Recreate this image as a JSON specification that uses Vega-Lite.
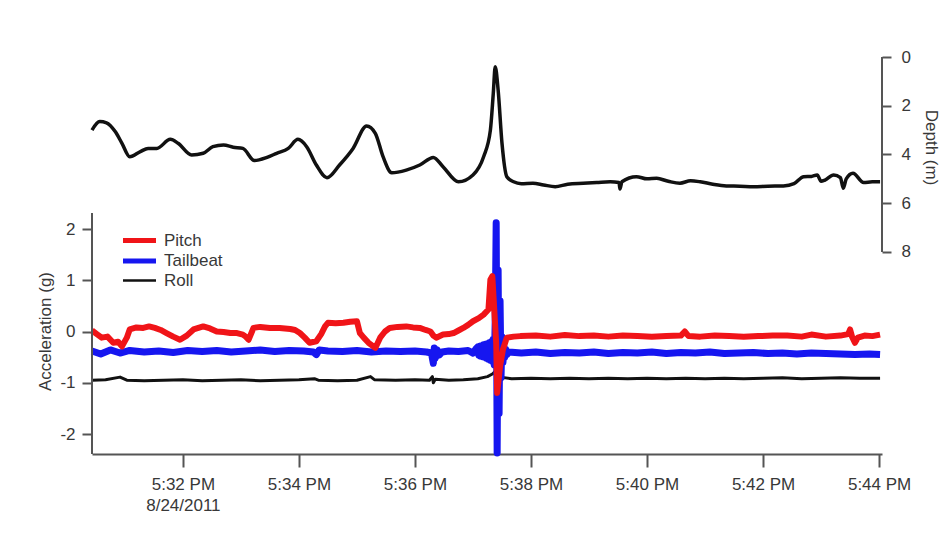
{
  "$schema": "https://vega.github.io/schema/vega-lite/v6.json",
  "width": 790,
  "height": 397,
  "autosize": {"type": "none"},
  "padding": {"left": 92, "top": 57, "right": 69, "bottom": 93},
  "background": "white",
  "config": {
    "view": {"stroke": null},
    "font": "Liberation Sans",
    "axis": {
      "grid": false,
      "labelFont": "Liberation Sans",
      "titleFont": "Liberation Sans",
      "labelFontSize": 17,
      "titleFontSize": 17,
      "titleFontWeight": "normal",
      "labelColor": "#383838",
      "titleColor": "#383838",
      "domainColor": "#555555",
      "domainWidth": 2,
      "tickColor": "#555555",
      "tickWidth": 2
    }
  },
  "datasets": {
    "depth": [
      {"t": "2011-08-24T17:30:26", "d": 3.0},
      {"t": "2011-08-24T17:30:34", "d": 2.65},
      {"t": "2011-08-24T17:30:41", "d": 2.7},
      {"t": "2011-08-24T17:30:50", "d": 3.06},
      {"t": "2011-08-24T17:30:57", "d": 3.54},
      {"t": "2011-08-24T17:31:05", "d": 4.09},
      {"t": "2011-08-24T17:31:16", "d": 3.88},
      {"t": "2011-08-24T17:31:24", "d": 3.75},
      {"t": "2011-08-24T17:31:33", "d": 3.75},
      {"t": "2011-08-24T17:31:47", "d": 3.38},
      {"t": "2011-08-24T17:31:55", "d": 3.54},
      {"t": "2011-08-24T17:32:09", "d": 4.02},
      {"t": "2011-08-24T17:32:21", "d": 3.95},
      {"t": "2011-08-24T17:32:31", "d": 3.68},
      {"t": "2011-08-24T17:32:42", "d": 3.61},
      {"t": "2011-08-24T17:32:52", "d": 3.7},
      {"t": "2011-08-24T17:33:02", "d": 3.75},
      {"t": "2011-08-24T17:33:14", "d": 4.25},
      {"t": "2011-08-24T17:33:27", "d": 4.12},
      {"t": "2011-08-24T17:33:37", "d": 3.95},
      {"t": "2011-08-24T17:33:49", "d": 3.75},
      {"t": "2011-08-24T17:33:59", "d": 3.38},
      {"t": "2011-08-24T17:34:08", "d": 3.68},
      {"t": "2011-08-24T17:34:18", "d": 4.43},
      {"t": "2011-08-24T17:34:29", "d": 4.95},
      {"t": "2011-08-24T17:34:42", "d": 4.43},
      {"t": "2011-08-24T17:34:56", "d": 3.75},
      {"t": "2011-08-24T17:35:10", "d": 2.83},
      {"t": "2011-08-24T17:35:19", "d": 3.13},
      {"t": "2011-08-24T17:35:27", "d": 4.09},
      {"t": "2011-08-24T17:35:36", "d": 4.75},
      {"t": "2011-08-24T17:35:51", "d": 4.64},
      {"t": "2011-08-24T17:36:05", "d": 4.43},
      {"t": "2011-08-24T17:36:19", "d": 4.12},
      {"t": "2011-08-24T17:36:29", "d": 4.5},
      {"t": "2011-08-24T17:36:45", "d": 5.12},
      {"t": "2011-08-24T17:37:00", "d": 4.84},
      {"t": "2011-08-24T17:37:11", "d": 4.09},
      {"t": "2011-08-24T17:37:18", "d": 3.0},
      {"t": "2011-08-24T17:37:21", "d": 1.49},
      {"t": "2011-08-24T17:37:23", "d": 0.4},
      {"t": "2011-08-24T17:37:26", "d": 1.35},
      {"t": "2011-08-24T17:37:30", "d": 3.54},
      {"t": "2011-08-24T17:37:35", "d": 4.91},
      {"t": "2011-08-24T17:37:42", "d": 5.12},
      {"t": "2011-08-24T17:37:50", "d": 5.2},
      {"t": "2011-08-24T17:38:02", "d": 5.18},
      {"t": "2011-08-24T17:38:13", "d": 5.25},
      {"t": "2011-08-24T17:38:25", "d": 5.32},
      {"t": "2011-08-24T17:38:38", "d": 5.22},
      {"t": "2011-08-24T17:38:54", "d": 5.18},
      {"t": "2011-08-24T17:39:08", "d": 5.15},
      {"t": "2011-08-24T17:39:22", "d": 5.12},
      {"t": "2011-08-24T17:39:31", "d": 5.15},
      {"t": "2011-08-24T17:39:32", "d": 5.42},
      {"t": "2011-08-24T17:39:34", "d": 5.12},
      {"t": "2011-08-24T17:39:49", "d": 4.91},
      {"t": "2011-08-24T17:40:00", "d": 5.0},
      {"t": "2011-08-24T17:40:10", "d": 4.98},
      {"t": "2011-08-24T17:40:22", "d": 5.1},
      {"t": "2011-08-24T17:40:34", "d": 5.18},
      {"t": "2011-08-24T17:40:45", "d": 5.08},
      {"t": "2011-08-24T17:40:55", "d": 5.12},
      {"t": "2011-08-24T17:41:08", "d": 5.22},
      {"t": "2011-08-24T17:41:22", "d": 5.29},
      {"t": "2011-08-24T17:41:36", "d": 5.3},
      {"t": "2011-08-24T17:41:50", "d": 5.32},
      {"t": "2011-08-24T17:42:05", "d": 5.3},
      {"t": "2011-08-24T17:42:21", "d": 5.29},
      {"t": "2011-08-24T17:42:32", "d": 5.2},
      {"t": "2011-08-24T17:42:42", "d": 4.91},
      {"t": "2011-08-24T17:42:50", "d": 4.9},
      {"t": "2011-08-24T17:42:56", "d": 4.84},
      {"t": "2011-08-24T17:43:00", "d": 5.1},
      {"t": "2011-08-24T17:43:04", "d": 5.05},
      {"t": "2011-08-24T17:43:13", "d": 4.84},
      {"t": "2011-08-24T17:43:20", "d": 4.95},
      {"t": "2011-08-24T17:43:23", "d": 5.39},
      {"t": "2011-08-24T17:43:26", "d": 5.0},
      {"t": "2011-08-24T17:43:33", "d": 4.77},
      {"t": "2011-08-24T17:43:44", "d": 5.15},
      {"t": "2011-08-24T17:43:53", "d": 5.12},
      {"t": "2011-08-24T17:44:01", "d": 5.12}
    ],
    "accel": [
      {"t": "2011-08-24T17:30:26", "series": "Roll", "g": -0.95},
      {"t": "2011-08-24T17:30:40", "series": "Roll", "g": -0.94},
      {"t": "2011-08-24T17:30:55", "series": "Roll", "g": -0.89},
      {"t": "2011-08-24T17:31:02", "series": "Roll", "g": -0.95},
      {"t": "2011-08-24T17:31:20", "series": "Roll", "g": -0.96},
      {"t": "2011-08-24T17:31:40", "series": "Roll", "g": -0.95},
      {"t": "2011-08-24T17:32:00", "series": "Roll", "g": -0.94},
      {"t": "2011-08-24T17:32:20", "series": "Roll", "g": -0.96},
      {"t": "2011-08-24T17:32:40", "series": "Roll", "g": -0.95},
      {"t": "2011-08-24T17:33:00", "series": "Roll", "g": -0.94},
      {"t": "2011-08-24T17:33:20", "series": "Roll", "g": -0.96},
      {"t": "2011-08-24T17:33:40", "series": "Roll", "g": -0.95},
      {"t": "2011-08-24T17:34:00", "series": "Roll", "g": -0.94},
      {"t": "2011-08-24T17:34:16", "series": "Roll", "g": -0.92},
      {"t": "2011-08-24T17:34:20", "series": "Roll", "g": -0.95},
      {"t": "2011-08-24T17:34:40", "series": "Roll", "g": -0.96},
      {"t": "2011-08-24T17:35:00", "series": "Roll", "g": -0.95},
      {"t": "2011-08-24T17:35:14", "series": "Roll", "g": -0.88},
      {"t": "2011-08-24T17:35:18", "series": "Roll", "g": -0.94},
      {"t": "2011-08-24T17:35:40", "series": "Roll", "g": -0.95},
      {"t": "2011-08-24T17:36:00", "series": "Roll", "g": -0.94},
      {"t": "2011-08-24T17:36:15", "series": "Roll", "g": -0.95},
      {"t": "2011-08-24T17:36:18", "series": "Roll", "g": -0.88},
      {"t": "2011-08-24T17:36:19", "series": "Roll", "g": -1.0},
      {"t": "2011-08-24T17:36:21", "series": "Roll", "g": -0.93},
      {"t": "2011-08-24T17:36:35", "series": "Roll", "g": -0.95},
      {"t": "2011-08-24T17:36:50", "series": "Roll", "g": -0.94},
      {"t": "2011-08-24T17:37:05", "series": "Roll", "g": -0.92},
      {"t": "2011-08-24T17:37:15", "series": "Roll", "g": -0.88},
      {"t": "2011-08-24T17:37:20", "series": "Roll", "g": -0.83},
      {"t": "2011-08-24T17:37:23", "series": "Roll", "g": -0.78},
      {"t": "2011-08-24T17:37:25", "series": "Roll", "g": -0.98},
      {"t": "2011-08-24T17:37:27", "series": "Roll", "g": -0.87},
      {"t": "2011-08-24T17:37:29", "series": "Roll", "g": -0.95},
      {"t": "2011-08-24T17:37:32", "series": "Roll", "g": -0.9},
      {"t": "2011-08-24T17:37:40", "series": "Roll", "g": -0.92},
      {"t": "2011-08-24T17:38:00", "series": "Roll", "g": -0.91},
      {"t": "2011-08-24T17:38:20", "series": "Roll", "g": -0.92},
      {"t": "2011-08-24T17:38:40", "series": "Roll", "g": -0.91},
      {"t": "2011-08-24T17:39:00", "series": "Roll", "g": -0.92},
      {"t": "2011-08-24T17:39:20", "series": "Roll", "g": -0.91},
      {"t": "2011-08-24T17:39:40", "series": "Roll", "g": -0.92},
      {"t": "2011-08-24T17:40:00", "series": "Roll", "g": -0.91},
      {"t": "2011-08-24T17:40:20", "series": "Roll", "g": -0.92},
      {"t": "2011-08-24T17:40:40", "series": "Roll", "g": -0.91},
      {"t": "2011-08-24T17:41:00", "series": "Roll", "g": -0.92},
      {"t": "2011-08-24T17:41:20", "series": "Roll", "g": -0.91},
      {"t": "2011-08-24T17:41:40", "series": "Roll", "g": -0.92},
      {"t": "2011-08-24T17:42:00", "series": "Roll", "g": -0.91},
      {"t": "2011-08-24T17:42:20", "series": "Roll", "g": -0.9},
      {"t": "2011-08-24T17:42:40", "series": "Roll", "g": -0.92},
      {"t": "2011-08-24T17:43:00", "series": "Roll", "g": -0.91},
      {"t": "2011-08-24T17:43:20", "series": "Roll", "g": -0.9},
      {"t": "2011-08-24T17:43:40", "series": "Roll", "g": -0.91},
      {"t": "2011-08-24T17:44:01", "series": "Roll", "g": -0.91},

      {"t": "2011-08-24T17:30:26", "series": "Tailbeat", "g": -0.38},
      {"t": "2011-08-24T17:30:35", "series": "Tailbeat", "g": -0.44},
      {"t": "2011-08-24T17:30:45", "series": "Tailbeat", "g": -0.36},
      {"t": "2011-08-24T17:30:55", "series": "Tailbeat", "g": -0.42},
      {"t": "2011-08-24T17:31:05", "series": "Tailbeat", "g": -0.37},
      {"t": "2011-08-24T17:31:20", "series": "Tailbeat", "g": -0.4},
      {"t": "2011-08-24T17:31:35", "series": "Tailbeat", "g": -0.38},
      {"t": "2011-08-24T17:31:50", "series": "Tailbeat", "g": -0.41},
      {"t": "2011-08-24T17:32:05", "series": "Tailbeat", "g": -0.37},
      {"t": "2011-08-24T17:32:20", "series": "Tailbeat", "g": -0.39},
      {"t": "2011-08-24T17:32:35", "series": "Tailbeat", "g": -0.37},
      {"t": "2011-08-24T17:32:50", "series": "Tailbeat", "g": -0.4},
      {"t": "2011-08-24T17:33:05", "series": "Tailbeat", "g": -0.38},
      {"t": "2011-08-24T17:33:20", "series": "Tailbeat", "g": -0.36},
      {"t": "2011-08-24T17:33:35", "series": "Tailbeat", "g": -0.39},
      {"t": "2011-08-24T17:33:50", "series": "Tailbeat", "g": -0.37},
      {"t": "2011-08-24T17:34:05", "series": "Tailbeat", "g": -0.38},
      {"t": "2011-08-24T17:34:15", "series": "Tailbeat", "g": -0.4},
      {"t": "2011-08-24T17:34:18", "series": "Tailbeat", "g": -0.45},
      {"t": "2011-08-24T17:34:21", "series": "Tailbeat", "g": -0.36},
      {"t": "2011-08-24T17:34:30", "series": "Tailbeat", "g": -0.38},
      {"t": "2011-08-24T17:34:45", "series": "Tailbeat", "g": -0.39},
      {"t": "2011-08-24T17:35:00", "series": "Tailbeat", "g": -0.37},
      {"t": "2011-08-24T17:35:15", "series": "Tailbeat", "g": -0.4},
      {"t": "2011-08-24T17:35:30", "series": "Tailbeat", "g": -0.38},
      {"t": "2011-08-24T17:35:45", "series": "Tailbeat", "g": -0.39},
      {"t": "2011-08-24T17:36:00", "series": "Tailbeat", "g": -0.38},
      {"t": "2011-08-24T17:36:12", "series": "Tailbeat", "g": -0.4},
      {"t": "2011-08-24T17:36:17", "series": "Tailbeat", "g": -0.42},
      {"t": "2011-08-24T17:36:19", "series": "Tailbeat", "g": -0.62},
      {"t": "2011-08-24T17:36:20", "series": "Tailbeat", "g": -0.32},
      {"t": "2011-08-24T17:36:21", "series": "Tailbeat", "g": -0.52},
      {"t": "2011-08-24T17:36:23", "series": "Tailbeat", "g": -0.36},
      {"t": "2011-08-24T17:36:25", "series": "Tailbeat", "g": -0.46},
      {"t": "2011-08-24T17:36:28", "series": "Tailbeat", "g": -0.4},
      {"t": "2011-08-24T17:36:35", "series": "Tailbeat", "g": -0.38},
      {"t": "2011-08-24T17:36:45", "series": "Tailbeat", "g": -0.39},
      {"t": "2011-08-24T17:36:55", "series": "Tailbeat", "g": -0.37},
      {"t": "2011-08-24T17:37:00", "series": "Tailbeat", "g": -0.42},
      {"t": "2011-08-24T17:37:03", "series": "Tailbeat", "g": -0.34},
      {"t": "2011-08-24T17:37:05", "series": "Tailbeat", "g": -0.3},
      {"t": "2011-08-24T17:37:06", "series": "Tailbeat", "g": -0.46},
      {"t": "2011-08-24T17:37:07", "series": "Tailbeat", "g": -0.29},
      {"t": "2011-08-24T17:37:08", "series": "Tailbeat", "g": -0.48},
      {"t": "2011-08-24T17:37:09", "series": "Tailbeat", "g": -0.28},
      {"t": "2011-08-24T17:37:10", "series": "Tailbeat", "g": -0.49},
      {"t": "2011-08-24T17:37:11", "series": "Tailbeat", "g": -0.26},
      {"t": "2011-08-24T17:37:12", "series": "Tailbeat", "g": -0.5},
      {"t": "2011-08-24T17:37:13", "series": "Tailbeat", "g": -0.25},
      {"t": "2011-08-24T17:37:14", "series": "Tailbeat", "g": -0.52},
      {"t": "2011-08-24T17:37:15", "series": "Tailbeat", "g": -0.24},
      {"t": "2011-08-24T17:37:16", "series": "Tailbeat", "g": -0.54},
      {"t": "2011-08-24T17:37:17", "series": "Tailbeat", "g": -0.22},
      {"t": "2011-08-24T17:37:18", "series": "Tailbeat", "g": -0.56},
      {"t": "2011-08-24T17:37:19", "series": "Tailbeat", "g": -0.2},
      {"t": "2011-08-24T17:37:20", "series": "Tailbeat", "g": -0.58},
      {"t": "2011-08-24T17:37:21", "series": "Tailbeat", "g": -0.15},
      {"t": "2011-08-24T17:37:22", "series": "Tailbeat", "g": -0.65},
      {"t": "2011-08-24T17:37:23", "series": "Tailbeat", "g": 0.2},
      {"t": "2011-08-24T17:37:24", "series": "Tailbeat", "g": 2.12},
      {"t": "2011-08-24T17:37:25", "series": "Tailbeat", "g": -2.37},
      {"t": "2011-08-24T17:37:26", "series": "Tailbeat", "g": 1.2},
      {"t": "2011-08-24T17:37:27", "series": "Tailbeat", "g": -1.6},
      {"t": "2011-08-24T17:37:28", "series": "Tailbeat", "g": 0.6},
      {"t": "2011-08-24T17:37:29", "series": "Tailbeat", "g": -0.9},
      {"t": "2011-08-24T17:37:30", "series": "Tailbeat", "g": -0.1},
      {"t": "2011-08-24T17:37:31", "series": "Tailbeat", "g": -0.6},
      {"t": "2011-08-24T17:37:32", "series": "Tailbeat", "g": -0.3},
      {"t": "2011-08-24T17:37:33", "series": "Tailbeat", "g": -0.5},
      {"t": "2011-08-24T17:37:34", "series": "Tailbeat", "g": -0.35},
      {"t": "2011-08-24T17:37:35", "series": "Tailbeat", "g": -0.45},
      {"t": "2011-08-24T17:37:37", "series": "Tailbeat", "g": -0.4},
      {"t": "2011-08-24T17:37:50", "series": "Tailbeat", "g": -0.42},
      {"t": "2011-08-24T17:38:05", "series": "Tailbeat", "g": -0.4},
      {"t": "2011-08-24T17:38:20", "series": "Tailbeat", "g": -0.43},
      {"t": "2011-08-24T17:38:35", "series": "Tailbeat", "g": -0.41},
      {"t": "2011-08-24T17:38:50", "series": "Tailbeat", "g": -0.42},
      {"t": "2011-08-24T17:39:05", "series": "Tailbeat", "g": -0.4},
      {"t": "2011-08-24T17:39:20", "series": "Tailbeat", "g": -0.43},
      {"t": "2011-08-24T17:39:35", "series": "Tailbeat", "g": -0.41},
      {"t": "2011-08-24T17:39:50", "series": "Tailbeat", "g": -0.42},
      {"t": "2011-08-24T17:40:05", "series": "Tailbeat", "g": -0.4},
      {"t": "2011-08-24T17:40:20", "series": "Tailbeat", "g": -0.43},
      {"t": "2011-08-24T17:40:35", "series": "Tailbeat", "g": -0.41},
      {"t": "2011-08-24T17:40:50", "series": "Tailbeat", "g": -0.42},
      {"t": "2011-08-24T17:41:05", "series": "Tailbeat", "g": -0.4},
      {"t": "2011-08-24T17:41:20", "series": "Tailbeat", "g": -0.43},
      {"t": "2011-08-24T17:41:35", "series": "Tailbeat", "g": -0.42},
      {"t": "2011-08-24T17:41:50", "series": "Tailbeat", "g": -0.41},
      {"t": "2011-08-24T17:42:05", "series": "Tailbeat", "g": -0.43},
      {"t": "2011-08-24T17:42:20", "series": "Tailbeat", "g": -0.42},
      {"t": "2011-08-24T17:42:35", "series": "Tailbeat", "g": -0.44},
      {"t": "2011-08-24T17:42:50", "series": "Tailbeat", "g": -0.42},
      {"t": "2011-08-24T17:43:05", "series": "Tailbeat", "g": -0.43},
      {"t": "2011-08-24T17:43:20", "series": "Tailbeat", "g": -0.44},
      {"t": "2011-08-24T17:43:35", "series": "Tailbeat", "g": -0.45},
      {"t": "2011-08-24T17:43:50", "series": "Tailbeat", "g": -0.44},
      {"t": "2011-08-24T17:44:01", "series": "Tailbeat", "g": -0.45},

      {"t": "2011-08-24T17:30:26", "series": "Pitch", "g": 0.02},
      {"t": "2011-08-24T17:30:31", "series": "Pitch", "g": -0.05},
      {"t": "2011-08-24T17:30:36", "series": "Pitch", "g": -0.12},
      {"t": "2011-08-24T17:30:42", "series": "Pitch", "g": -0.1},
      {"t": "2011-08-24T17:30:48", "series": "Pitch", "g": -0.22},
      {"t": "2011-08-24T17:30:53", "series": "Pitch", "g": -0.2},
      {"t": "2011-08-24T17:30:57", "series": "Pitch", "g": -0.29},
      {"t": "2011-08-24T17:31:02", "series": "Pitch", "g": -0.12},
      {"t": "2011-08-24T17:31:05", "series": "Pitch", "g": 0.04},
      {"t": "2011-08-24T17:31:12", "series": "Pitch", "g": 0.08},
      {"t": "2011-08-24T17:31:19", "series": "Pitch", "g": 0.07},
      {"t": "2011-08-24T17:31:25", "series": "Pitch", "g": 0.1},
      {"t": "2011-08-24T17:31:31", "series": "Pitch", "g": 0.07},
      {"t": "2011-08-24T17:31:37", "series": "Pitch", "g": 0.03},
      {"t": "2011-08-24T17:31:43", "series": "Pitch", "g": -0.03},
      {"t": "2011-08-24T17:31:50", "series": "Pitch", "g": -0.1},
      {"t": "2011-08-24T17:31:57", "series": "Pitch", "g": -0.16},
      {"t": "2011-08-24T17:32:04", "series": "Pitch", "g": -0.08},
      {"t": "2011-08-24T17:32:11", "series": "Pitch", "g": 0.04},
      {"t": "2011-08-24T17:32:16", "series": "Pitch", "g": 0.07},
      {"t": "2011-08-24T17:32:21", "series": "Pitch", "g": 0.1},
      {"t": "2011-08-24T17:32:28", "series": "Pitch", "g": 0.06},
      {"t": "2011-08-24T17:32:35", "series": "Pitch", "g": 0.0},
      {"t": "2011-08-24T17:32:42", "series": "Pitch", "g": -0.01},
      {"t": "2011-08-24T17:32:49", "series": "Pitch", "g": -0.03},
      {"t": "2011-08-24T17:32:56", "series": "Pitch", "g": -0.03},
      {"t": "2011-08-24T17:33:02", "series": "Pitch", "g": -0.06},
      {"t": "2011-08-24T17:33:05", "series": "Pitch", "g": -0.1},
      {"t": "2011-08-24T17:33:08", "series": "Pitch", "g": -0.16},
      {"t": "2011-08-24T17:33:13", "series": "Pitch", "g": 0.07},
      {"t": "2011-08-24T17:33:20", "series": "Pitch", "g": 0.09},
      {"t": "2011-08-24T17:33:30", "series": "Pitch", "g": 0.07},
      {"t": "2011-08-24T17:33:40", "series": "Pitch", "g": 0.07},
      {"t": "2011-08-24T17:33:51", "series": "Pitch", "g": 0.05},
      {"t": "2011-08-24T17:33:56", "series": "Pitch", "g": 0.03},
      {"t": "2011-08-24T17:34:01", "series": "Pitch", "g": -0.03},
      {"t": "2011-08-24T17:34:06", "series": "Pitch", "g": -0.12},
      {"t": "2011-08-24T17:34:11", "series": "Pitch", "g": -0.22},
      {"t": "2011-08-24T17:34:18", "series": "Pitch", "g": -0.19},
      {"t": "2011-08-24T17:34:23", "series": "Pitch", "g": -0.05},
      {"t": "2011-08-24T17:34:27", "series": "Pitch", "g": 0.1},
      {"t": "2011-08-24T17:34:30", "series": "Pitch", "g": 0.17},
      {"t": "2011-08-24T17:34:38", "series": "Pitch", "g": 0.16},
      {"t": "2011-08-24T17:34:46", "series": "Pitch", "g": 0.17},
      {"t": "2011-08-24T17:34:53", "series": "Pitch", "g": 0.19},
      {"t": "2011-08-24T17:35:00", "series": "Pitch", "g": 0.2},
      {"t": "2011-08-24T17:35:03", "series": "Pitch", "g": -0.03},
      {"t": "2011-08-24T17:35:07", "series": "Pitch", "g": -0.12},
      {"t": "2011-08-24T17:35:12", "series": "Pitch", "g": -0.22},
      {"t": "2011-08-24T17:35:19", "series": "Pitch", "g": -0.32},
      {"t": "2011-08-24T17:35:24", "series": "Pitch", "g": -0.12},
      {"t": "2011-08-24T17:35:29", "series": "Pitch", "g": 0.0},
      {"t": "2011-08-24T17:35:34", "series": "Pitch", "g": 0.07},
      {"t": "2011-08-24T17:35:42", "series": "Pitch", "g": 0.09},
      {"t": "2011-08-24T17:35:51", "series": "Pitch", "g": 0.1},
      {"t": "2011-08-24T17:35:58", "series": "Pitch", "g": 0.08},
      {"t": "2011-08-24T17:36:05", "series": "Pitch", "g": 0.07},
      {"t": "2011-08-24T17:36:11", "series": "Pitch", "g": 0.03},
      {"t": "2011-08-24T17:36:16", "series": "Pitch", "g": 0.0},
      {"t": "2011-08-24T17:36:19", "series": "Pitch", "g": -0.08},
      {"t": "2011-08-24T17:36:22", "series": "Pitch", "g": -0.12},
      {"t": "2011-08-24T17:36:29", "series": "Pitch", "g": -0.06},
      {"t": "2011-08-24T17:36:35", "series": "Pitch", "g": -0.05},
      {"t": "2011-08-24T17:36:40", "series": "Pitch", "g": -0.03},
      {"t": "2011-08-24T17:36:45", "series": "Pitch", "g": 0.02},
      {"t": "2011-08-24T17:36:50", "series": "Pitch", "g": 0.07},
      {"t": "2011-08-24T17:36:55", "series": "Pitch", "g": 0.13},
      {"t": "2011-08-24T17:37:00", "series": "Pitch", "g": 0.2},
      {"t": "2011-08-24T17:37:06", "series": "Pitch", "g": 0.26},
      {"t": "2011-08-24T17:37:11", "series": "Pitch", "g": 0.33},
      {"t": "2011-08-24T17:37:16", "series": "Pitch", "g": 0.43},
      {"t": "2011-08-24T17:37:18", "series": "Pitch", "g": 1.01},
      {"t": "2011-08-24T17:37:20", "series": "Pitch", "g": 1.08},
      {"t": "2011-08-24T17:37:22", "series": "Pitch", "g": 0.43},
      {"t": "2011-08-24T17:37:24", "series": "Pitch", "g": -0.22},
      {"t": "2011-08-24T17:37:25", "series": "Pitch", "g": -1.2},
      {"t": "2011-08-24T17:37:28", "series": "Pitch", "g": -0.68},
      {"t": "2011-08-24T17:37:31", "series": "Pitch", "g": -0.35},
      {"t": "2011-08-24T17:37:35", "series": "Pitch", "g": -0.12},
      {"t": "2011-08-24T17:37:42", "series": "Pitch", "g": -0.1},
      {"t": "2011-08-24T17:37:49", "series": "Pitch", "g": -0.09},
      {"t": "2011-08-24T17:38:05", "series": "Pitch", "g": -0.08},
      {"t": "2011-08-24T17:38:20", "series": "Pitch", "g": -0.1},
      {"t": "2011-08-24T17:38:35", "series": "Pitch", "g": -0.07},
      {"t": "2011-08-24T17:38:50", "series": "Pitch", "g": -0.09},
      {"t": "2011-08-24T17:39:05", "series": "Pitch", "g": -0.08},
      {"t": "2011-08-24T17:39:20", "series": "Pitch", "g": -0.1},
      {"t": "2011-08-24T17:39:35", "series": "Pitch", "g": -0.08},
      {"t": "2011-08-24T17:39:50", "series": "Pitch", "g": -0.09},
      {"t": "2011-08-24T17:40:05", "series": "Pitch", "g": -0.1},
      {"t": "2011-08-24T17:40:20", "series": "Pitch", "g": -0.09},
      {"t": "2011-08-24T17:40:35", "series": "Pitch", "g": -0.08},
      {"t": "2011-08-24T17:40:39", "series": "Pitch", "g": 0.0},
      {"t": "2011-08-24T17:40:43", "series": "Pitch", "g": -0.09},
      {"t": "2011-08-24T17:40:55", "series": "Pitch", "g": -0.1},
      {"t": "2011-08-24T17:41:10", "series": "Pitch", "g": -0.08},
      {"t": "2011-08-24T17:41:25", "series": "Pitch", "g": -0.09},
      {"t": "2011-08-24T17:41:40", "series": "Pitch", "g": -0.1},
      {"t": "2011-08-24T17:41:55", "series": "Pitch", "g": -0.09},
      {"t": "2011-08-24T17:42:10", "series": "Pitch", "g": -0.08},
      {"t": "2011-08-24T17:42:25", "series": "Pitch", "g": -0.08},
      {"t": "2011-08-24T17:42:40", "series": "Pitch", "g": -0.1},
      {"t": "2011-08-24T17:42:50", "series": "Pitch", "g": -0.06},
      {"t": "2011-08-24T17:43:05", "series": "Pitch", "g": -0.1},
      {"t": "2011-08-24T17:43:20", "series": "Pitch", "g": -0.08},
      {"t": "2011-08-24T17:43:28", "series": "Pitch", "g": -0.05},
      {"t": "2011-08-24T17:43:30", "series": "Pitch", "g": 0.04},
      {"t": "2011-08-24T17:43:32", "series": "Pitch", "g": -0.1},
      {"t": "2011-08-24T17:43:35", "series": "Pitch", "g": -0.22},
      {"t": "2011-08-24T17:43:38", "series": "Pitch", "g": -0.12},
      {"t": "2011-08-24T17:43:45", "series": "Pitch", "g": -0.08},
      {"t": "2011-08-24T17:43:53", "series": "Pitch", "g": -0.09},
      {"t": "2011-08-24T17:44:01", "series": "Pitch", "g": -0.06}
    ]
  },
  "layer": [
    {
      "layer": [
        {
          "data": {"name": "depth"},
          "mark": {"type": "line", "color": "#111111", "strokeWidth": 3.5, "interpolate": "monotone", "strokeJoin": "round"},
          "encoding": {
            "x": {
              "field": "t",
              "type": "temporal",
              "scale": {
                "domain": [
                  {"year": 2011, "month": 8, "date": 24, "hours": 17, "minutes": 30, "seconds": 26},
                  {"year": 2011, "month": 8, "date": 24, "hours": 17, "minutes": 44, "seconds": 3}
                ]
              },
              "axis": {
                "title": null,
                "orient": "bottom",
                "values": [
                  {"year": 2011, "month": 8, "date": 24, "hours": 17, "minutes": 32},
                  {"year": 2011, "month": 8, "date": 24, "hours": 17, "minutes": 34},
                  {"year": 2011, "month": 8, "date": 24, "hours": 17, "minutes": 36},
                  {"year": 2011, "month": 8, "date": 24, "hours": 17, "minutes": 38},
                  {"year": 2011, "month": 8, "date": 24, "hours": 17, "minutes": 40},
                  {"year": 2011, "month": 8, "date": 24, "hours": 17, "minutes": 42},
                  {"year": 2011, "month": 8, "date": 24, "hours": 17, "minutes": 44}
                ],
                "labelExpr": "minutes(datum.value) == 32 ? [timeFormat(datum.value, '%-I:%M %p'), '8/24/2011'] : timeFormat(datum.value, '%-I:%M %p')",
                "tickSize": 13,
                "labelPadding": 9,
                "labelLineHeight": 21,
                "labelFlush": false,
                "labelOverlap": false
              }
            },
            "y": {
              "field": "d",
              "type": "quantitative",
              "scale": {"domain": [0, 16.29], "reverse": true, "nice": false, "zero": false},
              "axis": {
                "orient": "right",
                "values": [0, 2, 4, 6, 8],
                "labelExpr": "'' + datum.value",
                "domain": false,
                "tickSize": 9,
                "labelPadding": 10,
                "title": "Depth (m)",
                "titleAngle": 90,
                "titleX": 48,
                "titleY": 90,
                "titleBaseline": "middle",
                "titleAlign": "center"
              }
            }
          }
        },
        {
          "data": {"values": [{}]},
          "mark": {"type": "rule", "color": "#555555", "strokeWidth": 2},
          "encoding": {
            "x": {"datum": {"year": 2011, "month": 8, "date": 24, "hours": 17, "minutes": 44, "seconds": 3}, "type": "temporal"},
            "y": {"datum": 0, "type": "quantitative"},
            "y2": {"datum": 8}
          }
        }
      ]
    },
    {
      "layer": [
        {
          "data": {"name": "accel"},
          "transform": [{"filter": "datum.series == 'Roll'"}],
          "mark": {"type": "line", "strokeWidth": 3, "strokeJoin": "round"},
          "encoding": {
            "x": {"field": "t", "type": "temporal"},
            "y": {
              "field": "g",
              "type": "quantitative",
              "scale": {"domain": [-2.39, 5.356], "nice": false, "zero": false},
              "axis": {
                "orient": "left",
                "values": [-2, -1, 0, 1, 2],
                "labelExpr": "'' + datum.value",
                "domain": false,
                "tickSize": 10,
                "labelPadding": 7,
                "title": "Acceleration (g)",
                "titleAngle": -90,
                "titleX": -47,
                "titleY": 274,
                "titleBaseline": "middle",
                "titleAlign": "center"
              }
            },
            "color": {
              "field": "series",
              "type": "nominal",
              "scale": {"domain": ["Pitch", "Tailbeat", "Roll"], "range": ["#f01418", "#1616f0", "#111111"]},
              "legend": {
                "orient": "none",
                "legendX": 39,
                "legendY": 175,
                "title": null,
                "padding": 0,
                "symbolType": "stroke",
                "symbolSize": 1089,
                "symbolStrokeWidth": 5,
                "labelFont": "Liberation Sans",
                "labelFontSize": 17,
                "labelColor": "#383838",
                "labelOffset": 16,
                "rowPadding": -0.5,
                "encode": {"symbols": {"update": {"strokeWidth": {"signal": "datum.value === 'Roll' ? 2.5 : 5"}}}}
              }
            }
          }
        },
        {
          "data": {"name": "accel"},
          "transform": [{"filter": "datum.series == 'Tailbeat'"}],
          "mark": {"type": "line", "strokeWidth": 7, "strokeJoin": "round"},
          "encoding": {
            "x": {"field": "t", "type": "temporal"},
            "y": {"field": "g", "type": "quantitative"},
            "color": {"field": "series", "type": "nominal"}
          }
        },
        {
          "data": {"name": "accel"},
          "transform": [{"filter": "datum.series == 'Pitch'"}],
          "mark": {"type": "line", "strokeWidth": 6, "strokeJoin": "round"},
          "encoding": {
            "x": {"field": "t", "type": "temporal"},
            "y": {"field": "g", "type": "quantitative"},
            "color": {"field": "series", "type": "nominal"}
          }
        },
        {
          "data": {"values": [{}]},
          "mark": {"type": "rule", "color": "#555555", "strokeWidth": 2},
          "encoding": {
            "x": {"datum": {"year": 2011, "month": 8, "date": 24, "hours": 17, "minutes": 30, "seconds": 26}, "type": "temporal"},
            "y": {"datum": -2.39, "type": "quantitative"},
            "y2": {"datum": 2.31}
          }
        }
      ]
    }
  ],
  "resolve": {"scale": {"y": "independent"}, "axis": {"y": "independent"}}
}
